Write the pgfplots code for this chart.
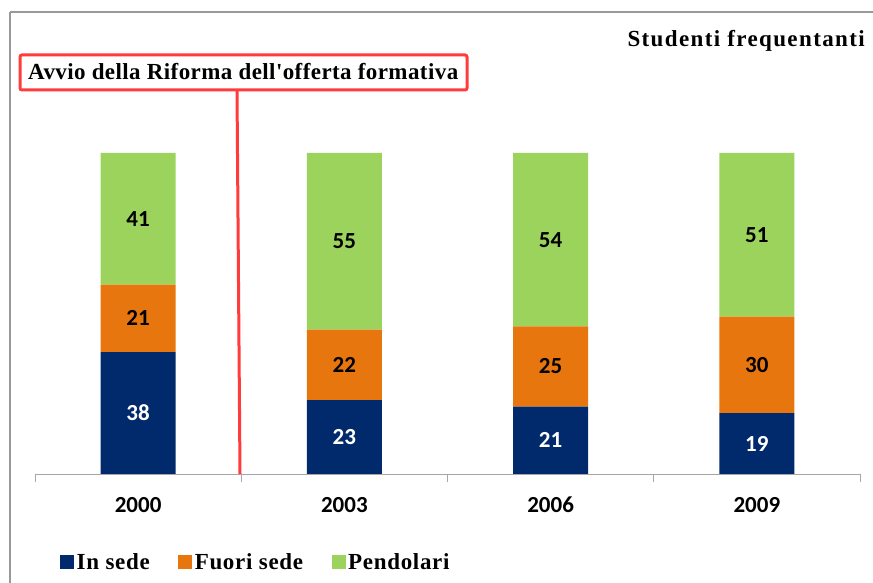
\documentclass[border=0pt]{standalone}
\usepackage{fontspec}
\usepackage{pgfplots}
\usepackage{pgfplotstable}
\pgfplotsset{compat=1.18}
\setmainfont{Liberation Serif}
\newfontfamily\titlesp[LetterSpace=6]{Liberation Serif}
\newfontfamily\boxsp[LetterSpace=1.8]{Liberation Serif}
\newfontfamily\legsp[LetterSpace=3]{Liberation Serif}
\newfontfamily\lbl{Carlito}
\definecolor{cBlue}{HTML}{002A6C}
\definecolor{cOrange}{HTML}{E8760E}
\definecolor{cGreen}{HTML}{9BD35C}
\definecolor{cRed}{HTML}{FF3B3B}
\definecolor{cAxis}{HTML}{A6A6A6}
\definecolor{cBorder}{HTML}{999999}

% Values (percent)
\pgfplotstableread{
x insede fuori pendolari
0 38 21 41
1 23 22 55
2 21 25 54
3 19 30 51
}\datatable
% Label positions (middle of each segment)
\pgfplotstableread{
x y label
0 19 38
1 11.5 23
2 10.5 21
3 9.5 19
}\labInSede
\pgfplotstableread{
x y label
0 48.5 21
1 34 22
2 33.5 25
3 34 30
}\labFuori
\pgfplotstableread{
x y label
0 79.5 41
1 72.5 55
2 73 54
3 74.5 51
}\labPend

\begin{document}
\begin{tikzpicture}
\pgfplotsset{
  commonaxis/.style={
    at={(35bp,109bp)}, anchor=south west,
    scale only axis, width=825bp, height=321bp,
    xmin=-0.5, xmax=3.5, ymin=0, ymax=100,
  }
}
\begin{axis}[
  commonaxis,
  ybar stacked, bar width=75bp,
  axis x line=bottom, axis y line=none,
  x axis line style={draw=cAxis, line width=1bp, -},
  xtick={0,1,2,3},
  xticklabels={2000,2003,2006,2009},
  major tick length=0pt,
  minor xtick={-0.5,0.5,1.5,2.5,3.5},
  minor tick length=8bp,
  tick align=outside,
  minor tick style={draw=cAxis, line width=1bp},
  xticklabel style={font=\lbl\bfseries\fontsize{23bp}{26bp}\selectfont, anchor=north, inner sep=0pt, yshift=-23bp},
  legend columns=3,
  legend style={at={(0.0303,-0.274)}, anchor=west, draw=none, fill=none,
    inner sep=0pt, font=\legsp\bfseries\fontsize{23bp}{26bp}\selectfont,
    nodes={inner xsep=2.5bp, inner ysep=0pt},
    /tikz/every even column/.append style={column sep=26bp}},
  legend image code/.code={\fill[#1] (0bp,-7bp) rectangle (14bp,7bp);},
]
\addplot[fill=cBlue, draw=none] table[x=x, y=insede] {\datatable};
\addlegendentry{In sede}
\addplot[fill=cOrange, draw=none] table[x=x, y=fuori] {\datatable};
\addlegendentry{Fuori sede}
\addplot[fill=cGreen, draw=none] table[x=x, y=pendolari] {\datatable};
\addlegendentry{Pendolari}
\end{axis}

\begin{axis}[
  commonaxis, hide axis,
  nodes near coords,
  point meta=explicit symbolic,
  every node near coord/.append style={anchor=center, inner sep=0pt,
    font=\lbl\bfseries\fontsize{23bp}{26bp}\selectfont},
]
\addplot[draw=none, mark=none, every node near coord/.append style={text=white}]
  table[x=x, y=y, meta=label] {\labInSede};
\addplot[draw=none, mark=none, every node near coord/.append style={text=black}]
  table[x=x, y=y, meta=label] {\labFuori};
\addplot[draw=none, mark=none, every node near coord/.append style={text=black}]
  table[x=x, y=y, meta=label] {\labPend};
\end{axis}

% frame lines of the original picture
\draw[cBorder, line width=2bp] (10bp,571bp) -- (873bp,571bp);
\draw[cBorder, line width=2bp] (10bp,571bp) -- (10bp,0bp);
% title
\node[anchor=base east, inner sep=0pt, font=\titlesp\bfseries\fontsize{23bp}{26bp}\selectfont]
  at (865bp,536bp) {Studenti frequentanti};
% annotation
\draw[cRed, line width=3bp] (237bp,493bp) -- (240bp,109bp);
\draw[cRed, line width=3bp, rounded corners=2bp, fill=white] (20bp,528bp) rectangle (467bp,493bp);
\node[anchor=base west, inner sep=0pt, font=\boxsp\bfseries\fontsize{23bp}{26bp}\selectfont]
  at (28bp,503bp) {Avvio della Riforma dell'offerta formativa};

\pgfresetboundingbox
\path[use as bounding box] (0,0) rectangle (873bp,583bp);
\end{tikzpicture}
\end{document}
